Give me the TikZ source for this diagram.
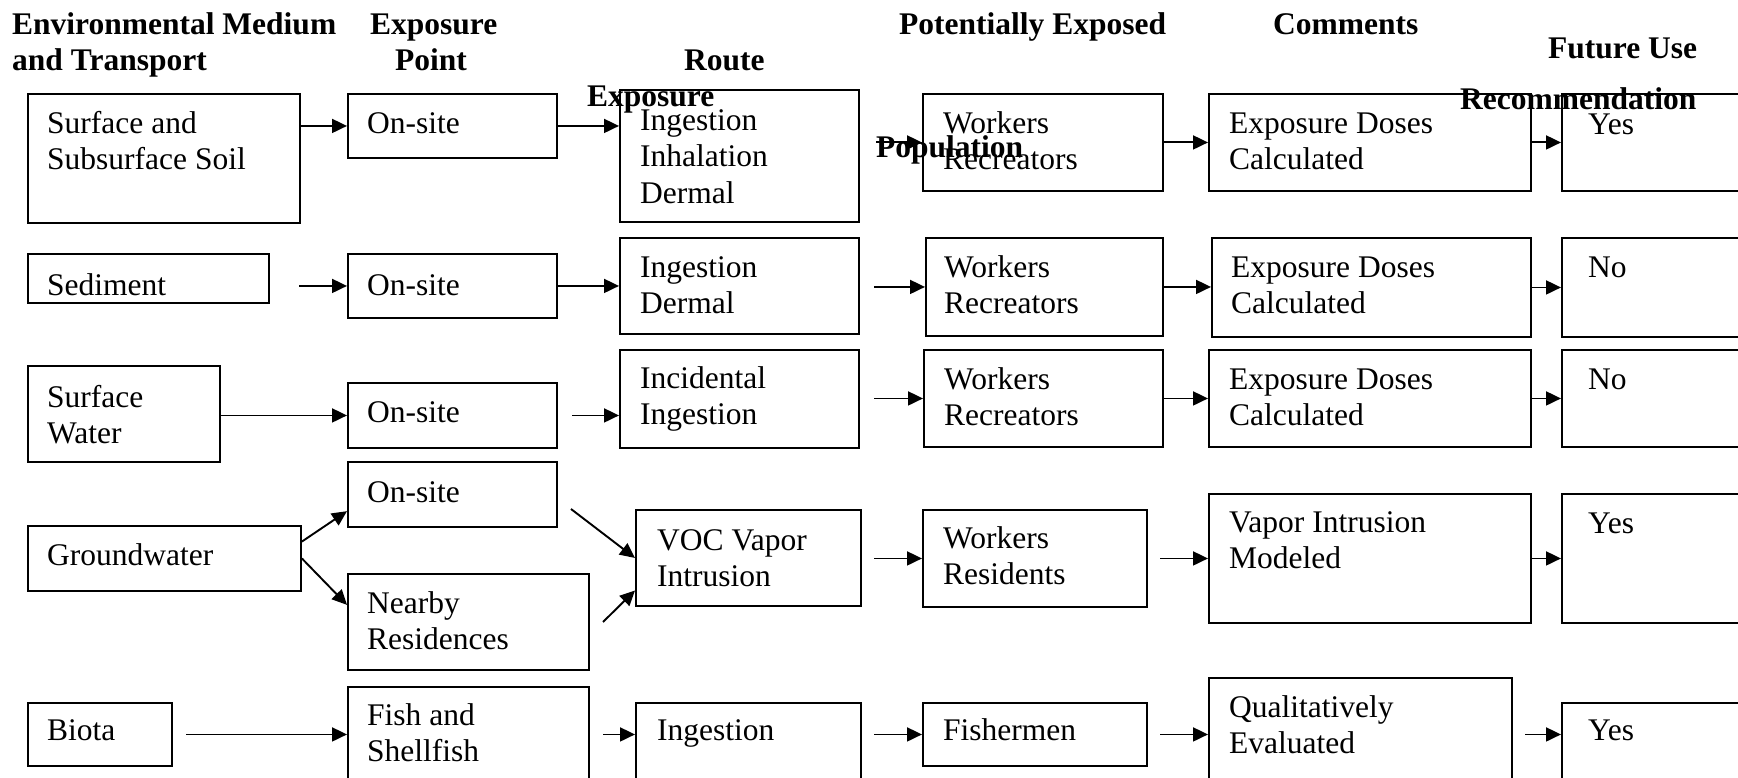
\documentclass[tikz,border=0pt]{standalone}
\usepackage{fontspec}
\setmainfont{Liberation Serif}
\usetikzlibrary{arrows.meta}
\tikzset{
  box/.style={draw, line width=1.9pt, inner sep=0pt, anchor=north west},
  tx/.style={inner sep=0pt, anchor=north west, align=left,
    font=\fontsize{31.5pt}{36.5pt}\selectfont, yshift=25.55pt},
  hd/.style={tx, font=\fontsize{31.5pt}{36.5pt}\selectfont\bfseries},
  arr/.style={line width=1.9pt, -{Triangle[length=15pt,width=14pt]}}
}
\newcommand\bx[5]{\node[box,minimum width={#4pt-#2pt},minimum height={#5pt-#3pt}] (#1) at (#2,#3) {};}
\begin{document}
\begin{tikzpicture}[x=1pt,y=-1pt]
\useasboundingbox (0,0) rectangle (1738,778);
\clip (0,0) rectangle (1738,778);
% ---------- boxes ----------
\bx{soil}{27}{93}{299}{222}
\bx{onsiteA}{347}{93}{556}{157}
\bx{ingA}{619}{89}{858}{221}
\bx{workA}{922}{93}{1162}{190}
\bx{doseA}{1208}{93}{1530}{190}
\bx{yesA}{1561}{93}{1760}{190}

\bx{sed}{27}{253}{268}{302}
\bx{onsiteB}{347}{253}{556}{317}
\bx{ingB}{619}{237}{858}{333}
\bx{workB}{925}{237}{1162}{335}
\bx{doseB}{1211}{237}{1530}{336}
\bx{noB}{1561}{237}{1760}{336}

\bx{sw}{27}{365}{219}{461}
\bx{onsiteC}{347}{382}{556}{447}
\bx{ingC}{619}{349}{858}{447}
\bx{workC}{923}{349}{1162}{446}
\bx{doseC}{1208}{349}{1530}{446}
\bx{noC}{1561}{349}{1760}{446}

\bx{gw}{27}{525}{300}{590}
\bx{onsiteD}{347}{461}{556}{526}
\bx{near}{347}{573}{588}{669}
\bx{voc}{635}{509}{860}{605}
\bx{workD}{922}{509}{1146}{606}
\bx{vapor}{1208}{493}{1530}{622}
\bx{yesD}{1561}{493}{1760}{622}

\bx{biota}{27}{702}{171}{765}
\bx{fish}{347}{686}{588}{800}
\bx{ingE}{635}{702}{860}{800}
\bx{fishm}{922}{702}{1146}{765}
\bx{qual}{1208}{677}{1511}{800}
\bx{yesE}{1561}{702}{1760}{800}

% ---------- box texts ----------
\node[tx] (tsoil) at (47,133) {\strut Surface and\\\strut Subsurface Soil};
\node[tx] (tonsiteA) at (367,133) {\strut On-site};
\node[tx] (tingA) at (640,130) {\strut Ingestion\\\strut Inhalation\\\strut Dermal};
\node[tx] (tworkA) at (943,133) {\strut Workers\\\strut Recreators};
\node[tx] (tdoseA) at (1229,133) {\strut Exposure Doses\\\strut Calculated};
\node[tx] (tyesA) at (1588,134) {\strut Yes};

\node[tx] (tsed) at (47,295) {\strut Sediment};
\node[tx] (tonsiteB) at (367,295) {\strut On-site};
\node[tx] (tingB) at (640,277) {\strut Ingestion\\\strut Dermal};
\node[tx] (tworkB) at (944,277) {\strut Workers\\\strut Recreators};
\node[tx] (tdoseB) at (1231,277) {\strut Exposure Doses\\\strut Calculated};
\node[tx] (tnoB) at (1588,277) {\strut No};

\node[tx] (tsw) at (47,407) {\strut Surface\\\strut Water};
\node[tx] (tonsiteC) at (367,422) {\strut On-site};
\node[tx] (tingC) at (640,388) {\strut Incidental\\\strut Ingestion};
\node[tx] (tworkC) at (944,389) {\strut Workers\\\strut Recreators};
\node[tx] (tdoseC) at (1229,389) {\strut Exposure Doses\\\strut Calculated};
\node[tx] (tnoC) at (1588,389) {\strut No};

\node[tx] (tgw) at (47,565) {\strut Groundwater};
\node[tx] (tonsiteD) at (367,502) {\strut On-site};
\node[tx] (tnear) at (367,613) {\strut Nearby\\\strut Residences};
\node[tx] (tvoc) at (657,550) {\strut VOC Vapor\\\strut Intrusion};
\node[tx] (tworkD) at (943,548) {\strut Workers\\\strut Residents};
\node[tx] (tvapor) at (1229,532) {\strut Vapor Intrusion\\\strut Modeled};
\node[tx] (tyesD) at (1588,533) {\strut Yes};

\node[tx] (tbiota) at (47,740) {\strut Biota};
\node[tx] (tfish) at (367,725) {\strut Fish and\\\strut Shellfish};
\node[tx] (tingE) at (657,740) {\strut Ingestion};
\node[tx] (tfishm) at (943,740) {\strut Fishermen};
\node[tx] (tqual) at (1229,717) {\strut Qualitatively\\\strut Evaluated};
\node[tx] (tyesE) at (1588,740) {\strut Yes};

% ---------- headers ----------
\node[hd] (h1a) at (12,34) {\strut Environmental Medium};
\node[hd] (h1b) at (12,70) {\strut and Transport};
\node[hd] (h2a) at (370,34) {\strut Exposure};
\node[hd] (h2b) at (395,70) {\strut Point};
\node[hd] (h3a) at (684,70) {\strut Route};
\node[hd] (h3b) at (587,106) {\strut Exposure};
\node[hd] (h4a) at (899,34) {\strut Potentially Exposed};
\node[hd] (h4b) at (876,157) {\strut Population};
\node[hd] (h5) at (1273,34) {\strut Comments};
\node[hd] (h6a) at (1548,58) {\strut Future Use};
\node[hd] (h6b) at (1460,109) {\strut Recommendation};

% ---------- free arrow ends ----------
\coordinate (fA3) at (876,0);
\coordinate (fB1) at (299,0);
\coordinate (fB3) at (874,0);
\coordinate (fC2) at (572,0);
\coordinate (fC3) at (874,0);
\coordinate (fD1) at (571,509);
\coordinate (fD2) at (603,622);
\coordinate (fD3) at (874,0);
\coordinate (fD4) at (1160,0);
\coordinate (fE1) at (186,0);
\coordinate (fE2) at (603,0);
\coordinate (fE3) at (874,0);
\coordinate (fE4) at (1160,0);
\coordinate (fE5) at (1525,0);

% ---------- arrows ----------
\draw[arr] (soil.east |- onsiteA.west) -- (onsiteA.west);
\draw[arr] (onsiteA.east) -- (ingA.west |- onsiteA.east);
\draw[arr] (fA3 |- workA.west) -- (workA.west);
\draw[arr] (workA.east) -- (doseA.west);
\draw[arr] (doseA.east) -- (yesA.west);

\draw[arr] (fB1 |- onsiteB.west) -- (onsiteB.west);
\draw[arr] (onsiteB.east) -- (ingB.west |- onsiteB.east);
\draw[arr] (fB3 |- workB.west) -- (workB.west);
\draw[arr] (workB.east) -- (doseB.west |- workB.east);
\draw[arr] (doseB.east) -- (noB.west |- doseB.east);

\draw[arr] (sw.east |- onsiteC.west) -- (onsiteC.west);
\draw[arr] (fC2 |- onsiteC.west) -- (ingC.west |- onsiteC.west);
\draw[arr] (fC3 |- workC.west) -- (workC.west);
\draw[arr] (workC.east) -- (doseC.west |- workC.east);
\draw[arr] (doseC.east) -- (noC.west |- doseC.east);

\draw[arr] (gw.7) -- (onsiteD.189);
\draw[arr] (gw.east) -- (near.172);
\draw[arr] (fD1) -- (voc.west);
\draw[arr] (fD2) -- (voc.196);
\draw[arr] (fD3 |- workD.west) -- (workD.west);
\draw[arr] (fD4 |- vapor.west) -- (vapor.west);
\draw[arr] (vapor.east) -- (yesD.west);

\draw[arr] (fE1 |- biota.east) -- (fish.west |- biota.east);
\draw[arr] (fE2 |- biota.east) -- (ingE.west |- biota.east);
\draw[arr] (fE3 |- fishm.west) -- (fishm.west);
\draw[arr] (fE4 |- fishm.west) -- (qual.west |- fishm.west);
\draw[arr] (fE5 |- fishm.west) -- (yesE.west |- fishm.west);
\end{tikzpicture}
\end{document}
